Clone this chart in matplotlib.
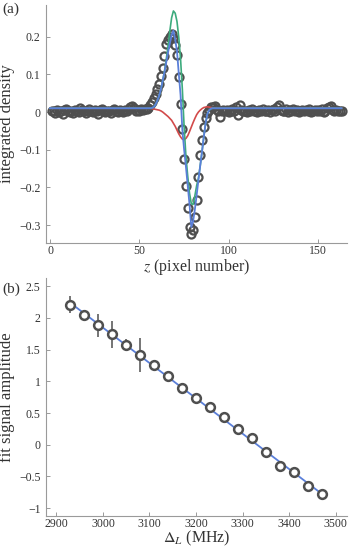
import numpy as np
import matplotlib
matplotlib.use("Agg")
import matplotlib.pyplot as plt

plt.rcParams['font.family'] = ['Liberation Serif', 'DejaVu Serif']
plt.rcParams['mathtext.fontset'] = 'stix'

# ---- panel (a): integrated density vs pixel number ----
dens_left = [0.004, 0.002, -0.002, 0.006, 0.001, 0.003, -0.004, 0.005, 0.008, 0.002,
             0.000, 0.004, -0.003, 0.006, 0.003, 0.001, 0.010, 0.005, 0.002, -0.002,
             0.004, 0.007, 0.003, 0.000, 0.005, 0.002, -0.004, 0.006, 0.009, 0.003,
             0.001, 0.004, 0.002, -0.003, 0.005, 0.008, 0.004, 0.001, 0.006, 0.002,
             0.000, 0.005, 0.003, 0.007, 0.013, 0.017, 0.011, 0.004, 0.006, 0.002,
             0.008, 0.005, 0.009]
dens_mid = [0.008, 0.011, 0.018, 0.026, 0.036, 0.048, 0.060, 0.075, 0.095, 0.118,
            0.148, 0.180, 0.190, 0.198, 0.207, 0.196, 0.178, 0.151, 0.094, 0.022,
            -0.046, -0.125, -0.196, -0.255, -0.306, -0.324, -0.312, -0.278, -0.232, -0.173,
            -0.114, -0.074, -0.039, -0.017, -0.002, 0.006, 0.014]
dens_right = [0.012, 0.015, 0.008, 0.004, -0.012, 0.003, 0.006, 0.002, 0.005, 0.001,
              0.004, 0.007, 0.003, 0.012, -0.008, 0.018, 0.006, 0.002, 0.004, 0.000,
              0.005, 0.003, 0.007, 0.002, 0.004, 0.001, 0.006, 0.003, 0.008, 0.002,
              0.004, 0.006, 0.001, 0.005, 0.009, 0.003, 0.012, 0.018, 0.006, 0.002,
              0.004, 0.007, 0.001, 0.005, 0.003, 0.008, 0.002, 0.005, 0.000, 0.004,
              0.006, 0.002, 0.005, 0.003, 0.007, 0.001, 0.004, 0.006, 0.002, 0.005,
              0.003, 0.008, 0.001, 0.004, 0.010, 0.014, 0.016, 0.006, 0.003, 0.005,
              0.002, 0.004, 0.003]
density = np.array(dens_left + dens_mid + dens_right)
pixel = np.arange(1, len(density) + 1)

# model curves, sampled per pixel across the feature (flat 0.01 outside)
model_z = [0] + list(range(50, 96)) + [163]
blue_fit = [0.010,
            0.010, 0.010, 0.010, 0.010, 0.010, 0.010, 0.010, 0.011, 0.013, 0.020,
            0.030, 0.043, 0.060, 0.083, 0.106, 0.132, 0.158, 0.182, 0.204, 0.216,
            0.192, 0.161, 0.102, 0.045, -0.048, -0.100, -0.145, -0.195, -0.245, -0.305,
            -0.290, -0.258, -0.220, -0.180, -0.142, -0.105, -0.065, -0.030, -0.005, 0.005,
            0.009, 0.010, 0.010, 0.010, 0.010, 0.010,
            0.010]
green_fit = [0.010,
             0.010, 0.010, 0.010, 0.010, 0.010, 0.010, 0.010, 0.011, 0.013, 0.020,
             0.030, 0.043, 0.060, 0.083, 0.108, 0.140, 0.175, 0.215, 0.250, 0.268,
             0.262, 0.240, 0.198, 0.140, 0.060, -0.040, -0.118, -0.170, -0.215, -0.243,
             -0.245, -0.222, -0.195, -0.175, -0.142, -0.105, -0.065, -0.030, -0.005, 0.005,
             0.009, 0.010, 0.010, 0.010, 0.010, 0.010,
             0.010]
red_fit = [0.010,
           0.010, 0.010, 0.010, 0.010, 0.010, 0.010, 0.010, 0.009, 0.008, 0.007,
           0.006, 0.005, 0.003, 0.000, -0.004, -0.008, -0.012, -0.017, -0.022, -0.030,
           -0.038, -0.048, -0.058, -0.066, -0.072, -0.073, -0.070, -0.063, -0.052, -0.040,
           -0.028, -0.017, -0.007, 0.000, 0.005, 0.009, 0.012, 0.013, 0.014, 0.013,
           0.012, 0.011, 0.010, 0.010, 0.010, 0.010,
           0.010]

# ---- panel (b): fit amplitude vs detuning ----
detuning = [2930, 2960, 2990, 3020, 3050, 3080, 3110, 3140, 3170, 3200,
            3230, 3260, 3290, 3320, 3350, 3380, 3410, 3440, 3470]
amplitude = [2.21, 2.04, 1.88, 1.74, 1.57, 1.42, 1.25, 1.08, 0.89, 0.74,
             0.59, 0.44, 0.25, 0.11, -0.12, -0.33, -0.43, -0.65, -0.78]
amp_err = [0.13, 0.07, 0.18, 0.21, 0.10, 0.27, 0.05, 0.05, 0.05, 0.04,
           0.04, 0.04, 0.04, 0.04, 0.04, 0.04, 0.04, 0.04, 0.04]

data_col = '#4f4f4f'
blue = '#5a7fd9'
green = '#3dab7d'
red = '#d24a4a'
axis_col = '#9a9a9a'
text_col = '#333333'

fig = plt.figure(figsize=(3.49, 5.47), dpi=100)
ax1 = fig.add_axes([0.132, 0.556, 0.862, 0.435])
ax2 = fig.add_axes([0.132, 0.057, 0.862, 0.435])


def style(ax):
    for s in ['top', 'right']:
        ax.spines[s].set_visible(False)
    for s in ['left', 'bottom']:
        ax.spines[s].set_color(axis_col)
        ax.spines[s].set_linewidth(0.8)
    ax.tick_params(direction='in', length=3, width=0.7, color=axis_col,
                   labelsize=8.5, labelcolor=text_col)
    ax.tick_params(axis='x', pad=1.5)
    ax.tick_params(axis='y', pad=4)


ax1.plot(pixel, density, 'o', ms=5.8, mfc='none', mec=data_col, mew=1.6, zorder=2)
ax1.plot(model_z, red_fit, color=red, lw=1.2, zorder=3)
ax1.plot(model_z, green_fit, color=green, lw=1.2, zorder=3)
ax1.plot(model_z, blue_fit, color=blue, lw=1.3, zorder=4)
ax1.set_xlim(-2.2, 166)
ax1.set_ylim(-0.347, 0.284)
ax1.set_xticks([0, 50, 100, 150])
ax1.set_yticks([-0.3, -0.2, -0.1, 0, 0.1, 0.2])
ax1.set_yticklabels(['\u22120.3', '\u22120.2', '\u22120.1', '0', '0.1', '0.2'])
ax1.set_xlabel('$z$ (pixel number)', fontsize=11.5, color=text_col, labelpad=0)
ax1.set_ylabel('integrated density', fontsize=12, color=text_col, labelpad=3)
style(ax1)

coef = np.polyfit(detuning, amplitude, 1)
line_x = np.array([detuning[0], detuning[-1]])
ax2.plot(line_x, np.polyval(coef, line_x), color=blue, lw=1.3, zorder=1)
ax2.errorbar(detuning, amplitude, yerr=amp_err, fmt='none', ecolor=data_col,
             elinewidth=1.1, capsize=0, zorder=2)
ax2.plot(detuning, amplitude, 'o', ms=6.3, mfc='white', mec=data_col, mew=1.8, zorder=3)
ax2.set_xlim(2878, 3524)
ax2.set_ylim(-1.12, 2.63)
ax2.set_xticks([2900, 3000, 3100, 3200, 3300, 3400, 3500])
ax2.set_yticks([-1, -0.5, 0, 0.5, 1, 1.5, 2, 2.5])
ax2.set_yticklabels(['\u22121', '\u22120.5', '0', '0.5', '1', '1.5', '2', '2.5'])
ax2.set_xlabel(r'$\mathit{\Delta}_L$ (MHz)', fontsize=11.5, color=text_col, labelpad=-1)
ax2.set_ylabel('fit signal amplitude', fontsize=12, color=text_col, labelpad=3)
style(ax2)

fig.text(0.006, 0.995, '(a)', fontsize=11, color=text_col, va='top', ha='left')
fig.text(0.006, 0.483, '(b)', fontsize=11, color=text_col, va='top', ha='left')

fig.savefig('out.png', dpi=100)
